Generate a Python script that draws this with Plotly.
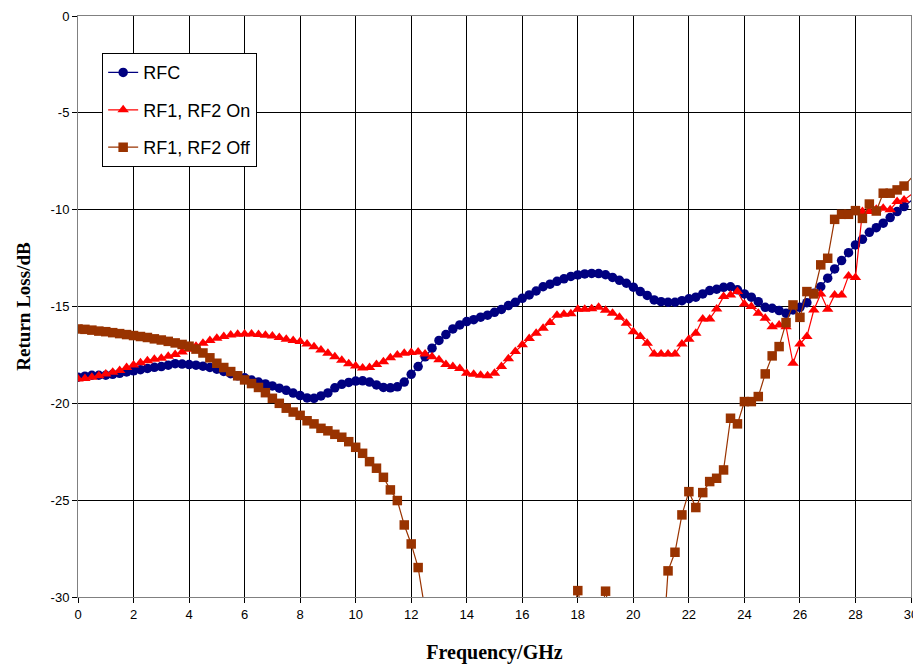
import plotly.graph_objects as go

step_freq = [i * 0.25 for i in range(120)] + [30.25]

rfc = [
    -18.65, -18.6, -18.55, -18.55, -18.55, -18.5, -18.45, -18.38,
    -18.32, -18.26, -18.2, -18.14, -18.1, -18.03, -17.95, -17.97,
    -18.0, -18.03, -18.08, -18.15, -18.24, -18.35, -18.47, -18.58,
    -18.68, -18.8, -18.9, -19.0, -19.1, -19.22, -19.33, -19.47,
    -19.6, -19.72, -19.74, -19.62, -19.46, -19.2, -19.02, -18.92,
    -18.85, -18.84, -18.9, -19.05, -19.18, -19.2, -19.15, -18.9,
    -18.5, -18.1, -17.6, -17.15, -16.75, -16.45, -16.16, -15.95,
    -15.78, -15.68, -15.55, -15.45, -15.3, -15.15, -14.95, -14.78,
    -14.58, -14.4, -14.2, -13.98, -13.85, -13.7, -13.57, -13.45,
    -13.37, -13.32, -13.29, -13.3, -13.36, -13.5, -13.65, -13.8,
    -14.0, -14.23, -14.43, -14.66, -14.75, -14.78, -14.78, -14.7,
    -14.6, -14.52, -14.35, -14.18, -14.11, -14.01, -13.98, -14.14,
    -14.35, -14.52, -14.75, -15.04, -15.09, -15.21, -15.35, -15.18,
    -15.04, -14.8, -14.32, -13.98, -13.54, -13.06, -12.63, -12.22,
    -11.82, -11.53, -11.17, -10.93, -10.7, -10.41, -10.1, -9.84,
    -9.25,
]

rf_on = [
    -18.74, -18.72, -18.65, -18.58, -18.48, -18.4, -18.3, -18.15,
    -18.02, -17.9, -17.8, -17.72, -17.67, -17.57, -17.48, -17.35,
    -17.21, -17.05, -16.9, -16.75, -16.64, -16.55, -16.47, -16.43,
    -16.42, -16.42, -16.45, -16.48, -16.52, -16.6, -16.69, -16.75,
    -16.81, -16.93, -17.08, -17.25, -17.42, -17.6, -17.78, -17.95,
    -18.07, -18.17, -18.15, -18.0, -17.85, -17.65, -17.5, -17.42,
    -17.38, -17.35, -17.45, -17.6, -17.75, -18.0, -18.1, -18.2,
    -18.45, -18.5, -18.55, -18.58, -18.45, -18.1, -17.7, -17.33,
    -16.98, -16.65, -16.38, -16.12, -15.83, -15.45, -15.4, -15.37,
    -15.14, -15.14, -15.12, -15.04, -15.2, -15.35, -15.56, -15.87,
    -16.3, -16.55, -16.9, -17.45, -17.45, -17.45, -17.45, -16.93,
    -16.69, -16.38, -15.64, -15.64, -15.13, -14.49, -14.4, -14.23,
    -14.87, -15.0, -15.35, -15.61, -16.04, -15.95, -16.04, -17.93,
    -16.93, -16.55, -15.18, -14.35, -15.14, -14.4, -14.4, -13.42,
    -13.5, -10.1, -10.1, -9.98, -9.93, -10.0, -9.58, -9.5,
    -8.95,
]

rf_off = [
    -16.16, -16.18, -16.22, -16.27, -16.3, -16.35, -16.4, -16.45,
    -16.5, -16.55, -16.6, -16.67, -16.73, -16.8, -16.88, -16.96,
    -17.05, -17.2, -17.4, -17.65, -17.93, -18.15, -18.36, -18.58,
    -18.79, -18.98, -19.18, -19.45, -19.74, -20.0, -20.25, -20.45,
    -20.62, -20.9, -21.06, -21.29, -21.42, -21.6, -21.75, -21.98,
    -22.27, -22.58, -23.01, -23.35, -23.82, -24.47, -25.02, -26.28,
    -27.26, -28.48, -30.7, -32.5, -34.0, -35.0, -36.0, -37.0,
    -38.0, -39.0, -40.0, -40.5, -41.0, -40.5, -40.0, -39.0,
    -38.0, -37.0, -36.0, -35.0, -34.0, -33.0, -32.5, -31.5,
    -29.67, -31.5, -33.0, -31.5, -29.7, -31.5, -33.0, -34.0,
    -35.0, -36.0, -36.0, -35.0, -34.0, -28.65, -27.69, -25.76,
    -24.56, -25.38, -24.61, -24.04, -23.87, -23.44, -20.77, -21.06,
    -19.91, -19.91, -19.65, -18.48, -17.55, -17.07, -15.83, -14.92,
    -15.56, -14.23, -14.35, -12.85, -12.51, -10.5, -10.24, -10.24,
    -10.05, -10.45, -9.71, -10.07, -9.15, -9.15, -8.98, -8.78,
    -8.0,
]

series_names = ["RFC", "RF1, RF2 On", "RF1, RF2 Off"]
x_ticks = list(range(0, 31, 2))
y_ticks = [0, -5, -10, -15, -20, -25, -30]
y_tick_text = ["0", "-5", "-10", "-15", "-20", "-25", "-30"]

fig = go.Figure()
styles = [
    dict(color="#000080", symbol="circle", size=9.5),
    dict(color="#FF0000", symbol="triangle-up", size=10),
    dict(color="#993300", symbol="square", size=9.5),
]
for name, vals, st in zip(series_names, [rfc, rf_on, rf_off], styles):
    fig.add_trace(go.Scatter(
        x=step_freq, y=vals, name=name, mode="lines+markers",
        line=dict(color=st["color"], width=1.2),
        marker=dict(color=st["color"], symbol=st["symbol"], size=st["size"]),
        legendgroup=name,
    ))

axis_common = dict(
    showgrid=True, gridcolor="#000000", gridwidth=1,
    showline=True, linecolor="#808080", linewidth=1, mirror=True,
    ticks="outside", ticklen=5, tickcolor="#000000",
    tickfont=dict(family="Liberation Sans, Arial", size=13, color="#000000"),
    zeroline=False, automargin=False,
)

fig.update_xaxes(
    range=[0, 30], tickvals=x_ticks, **axis_common,
    title=dict(text="<b>Frequency/GHz</b>", standoff=24,
               font=dict(family="Liberation Serif, Times New Roman", size=20, color="#000000")),
)
fig.update_yaxes(
    range=[-30, 0], tickvals=y_ticks, ticktext=y_tick_text, **axis_common,
    title=dict(text="<b>Return Loss/dB</b>", standoff=14,
               font=dict(family="Liberation Serif, Times New Roman", size=19, color="#000000")),
)

fig.update_layout(
    width=913, height=658,
    margin=dict(l=70, r=10, t=8, b=69),
    paper_bgcolor="#FFFFFF", plot_bgcolor="#FFFFFF",
    showlegend=True,
    legend=dict(
        x=0.029, y=0.936, xanchor="left", yanchor="top",
        bgcolor="#FFFFFF", bordercolor="#000000", borderwidth=1,
        font=dict(family="Liberation Sans, Arial", size=18, color="#000000"),
        tracegroupgap=11,
    ),
)

fig.write_html("out.html")
